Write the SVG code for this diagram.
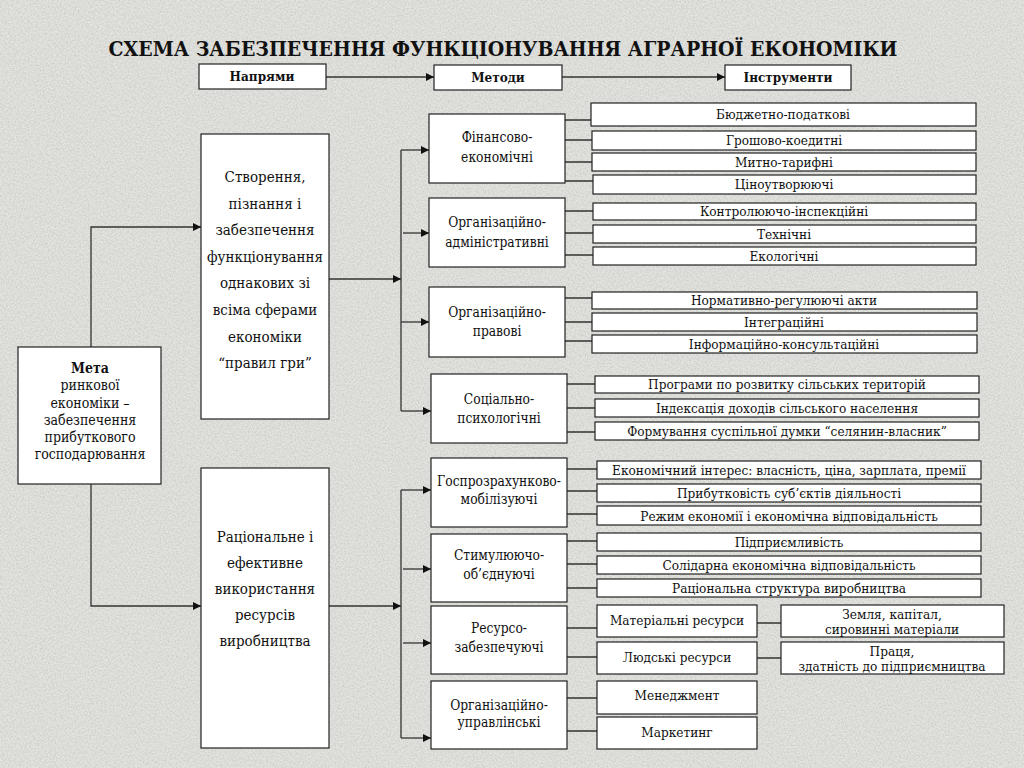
<svg xmlns="http://www.w3.org/2000/svg" width="1024" height="768" viewBox="0 0 1024 768">
<defs>
<style>
.box{fill:#ffffff;stroke:#222;stroke-width:1.2}
.t{font-family:'DejaVu Serif','Liberation Serif',serif;font-size:13.5px;fill:#111;text-anchor:middle}
.m{font-size:14px}
.l{font-size:15px}
.k{font-size:14px}
.h{font-size:13px;font-weight:bold}
.b{font-weight:bold}
.c{fill:none;stroke:#333;stroke-width:1.3}
.a{marker-end:url(#ar)}
</style>
<marker id="ar" viewBox="0 0 10 10" refX="10" refY="5" markerWidth="10" markerHeight="8" markerUnits="userSpaceOnUse" orient="auto">
<path d="M0,0 L10,5 L0,10 z" fill="#111"/>
</marker>
<filter id="grain" x="0" y="0" width="100%" height="100%">
<feTurbulence type="fractalNoise" baseFrequency="0.6" numOctaves="3" seed="7"/>
<feColorMatrix type="matrix" values="0 0 0 0 0.45  0 0 0 0 0.45  0 0 0 0 0.43  0.9 0 0 0 -0.3"/>
</filter>
</defs>

<g id="background">
<rect x="0" y="0" width="1024" height="768" fill="#e3e3df"/>
<rect x="0" y="0" width="1024" height="768" filter="url(#grain)"/>
</g>

<text id="title" class="t b" x="503" y="56" textLength="789" lengthAdjust="spacingAndGlyphs" style="font-size:19.5px">СХЕМА ЗАБЕЗПЕЧЕННЯ ФУНКЦІОНУВАННЯ АГРАРНОЇ ЕКОНОМІКИ</text>

<g id="connectors">
<path class="c a" d="M326,77 H434"/>
<path class="c a" d="M562,77 H725"/>
<path class="c a" d="M91,347 V227 H201"/>
<path class="c a" d="M91,484 V606 H201"/>
<path class="c a" d="M329,279 H401"/>
<path class="c" d="M401,150 V411"/>
<path class="c a" d="M401,150 H429"/>
<path class="c a" d="M403,233 H429"/>
<path class="c a" d="M401,322 H429"/>
<path class="c a" d="M401,411 H431"/>
<path class="c a" d="M329,606 H401"/>
<path class="c" d="M401,490 V738"/>
<path class="c a" d="M401,490 H431"/>
<path class="c a" d="M403,569 H431"/>
<path class="c a" d="M403,643 H431"/>
<path class="c a" d="M401,738 H431"/>
<path class="c" d="M565,120 H591 M565,140 H592 M565,162 H592 M565,181 H593"/>
<path class="c" d="M565,211 H593 M565,233 H593 M565,255 H593"/>
<path class="c" d="M565,298 H592 M565,322 H592 M565,341 H592"/>
<path class="c" d="M567,384 H595 M567,408 H595 M567,432 H595"/>
<path class="c" d="M567,469 H597 M567,491 H597 M567,514 H597"/>
<path class="c" d="M567,541 H597 M567,564 H597 M567,588 H597"/>
<path class="c" d="M567,628 H597 M567,657 H597"/>
<path class="c" d="M757,623 H781 M757,658 H781"/>
<path class="c" d="M567,698 H597 M567,731 H597"/>
</g>

<g id="h-napriamy"><rect class="box" x="199" y="64" width="127" height="25"/><text class="t h" transform="translate(262 0) scale(0.93 1)" x="0" y="81.5">Напрями</text></g>
<g id="h-metody"><rect class="box" x="434" y="65" width="128" height="25"/><text class="t h" transform="translate(498 0) scale(0.93 1)" x="0" y="82.5">Методи</text></g>
<g id="h-instrumenty"><rect class="box" x="725" y="65" width="126" height="25"/><text class="t h" transform="translate(788 0) scale(0.93 1)" x="0" y="82.5">Інструменти</text></g>

<g id="meta"><rect class="box" x="18" y="347" width="143" height="137"/>
<text class="t k" transform="translate(90 0) scale(0.9 1)" x="0" y="373"><tspan class="b">Мета</tspan><tspan x="0" dy="17.3">ринкової</tspan><tspan x="0" dy="17.3">економіки –</tspan><tspan x="0" dy="17.3">забезпечення</tspan><tspan x="0" dy="17.3">прибуткового</tspan><tspan x="0" dy="17.3">господарювання</tspan></text></g>

<g id="stvorennia"><rect class="box" x="201" y="134" width="128" height="285"/>
<text class="t l" transform="translate(265 0) scale(0.9 1)" x="0" y="182">Створення,<tspan x="0" dy="26.6">пізнання і</tspan><tspan x="0" dy="26.6">забезпечення</tspan><tspan x="0" dy="26.6">функціонування</tspan><tspan x="0" dy="26.6">однакових зі</tspan><tspan x="0" dy="26.6">всіма сферами</tspan><tspan x="0" dy="26.6">економіки</tspan><tspan x="0" dy="26.6">“правил гри”</tspan></text></g>

<g id="ratsionalne"><rect class="box" x="201" y="468" width="128" height="280"/>
<text class="t l" transform="translate(265 0) scale(0.9 1)" x="0" y="542">Раціональне і<tspan x="0" dy="26">ефективне</tspan><tspan x="0" dy="26">використання</tspan><tspan x="0" dy="26">ресурсів</tspan><tspan x="0" dy="26">виробництва</tspan></text></g>

<g id="m-finansovo"><rect class="box" x="429" y="114" width="136" height="69"/><text class="t m" transform="translate(497 0) scale(0.88 1)" x="0" y="142">Фінансово-<tspan x="0" dy="20">економічні</tspan></text></g>
<g id="m-org-adm"><rect class="box" x="429" y="198" width="136" height="69"/><text class="t m" transform="translate(497 0) scale(0.88 1)" x="0" y="227">Організаційно-<tspan x="0" dy="20">адміністративні</tspan></text></g>
<g id="m-org-prav"><rect class="box" x="429" y="287" width="136" height="70"/><text class="t m" transform="translate(497 0) scale(0.88 1)" x="0" y="317">Організаційно-<tspan x="0" dy="19">правові</tspan></text></g>
<g id="m-sots"><rect class="box" x="431" y="374" width="136" height="69"/><text class="t m" transform="translate(499 0) scale(0.88 1)" x="0" y="404">Соціально-<tspan x="0" dy="19">психологічні</tspan></text></g>
<g id="m-hosp"><rect class="box" x="431" y="458" width="136" height="69"/><text class="t m" transform="translate(499 0) scale(0.88 1)" x="0" y="486">Госпрозрахунково-<tspan x="0" dy="18">мобілізуючі</tspan></text></g>
<g id="m-styml"><rect class="box" x="431" y="534" width="136" height="68"/><text class="t m" transform="translate(499 0) scale(0.88 1)" x="0" y="560">Стимулюючо-<tspan x="0" dy="19">об’єднуючі</tspan></text></g>
<g id="m-resurso"><rect class="box" x="431" y="606" width="136" height="68"/><text class="t m" transform="translate(499 0) scale(0.88 1)" x="0" y="633">Ресурсо-<tspan x="0" dy="19">забезпечуючі</tspan></text></g>
<g id="m-org-upr"><rect class="box" x="431" y="681" width="136" height="68"/><text class="t m" transform="translate(499 0) scale(0.88 1)" x="0" y="710">Організаційно-<tspan x="0" dy="17">управлінські</tspan></text></g>

<g id="i-biudzhet"><rect class="box" x="591" y="103" width="385" height="23"/><text class="t" transform="translate(783 0) scale(0.9 1)" x="0" y="119">Бюджетно-податкові</text></g>
<g id="i-hrosh"><rect class="box" x="592" y="131" width="384" height="19"/><text class="t" transform="translate(784 0) scale(0.9 1)" x="0" y="145.5">Грошово-коедитні</text></g>
<g id="i-myt"><rect class="box" x="592" y="153" width="384" height="18"/><text class="t" transform="translate(784 0) scale(0.9 1)" x="0" y="167">Митно-тарифні</text></g>
<g id="i-tsin"><rect class="box" x="593" y="175" width="383" height="19"/><text class="t" transform="translate(784 0) scale(0.9 1)" x="0" y="189">Ціноутворюючі</text></g>
<g id="i-kontr"><rect class="box" x="593" y="203" width="383" height="17"/><text class="t" transform="translate(784 0) scale(0.9 1)" x="0" y="216.5">Контролюючо-інспекційні</text></g>
<g id="i-tekhn"><rect class="box" x="593" y="225" width="383" height="18"/><text class="t" transform="translate(784 0) scale(0.9 1)" x="0" y="239">Технічні</text></g>
<g id="i-ekol"><rect class="box" x="593" y="247" width="383" height="18"/><text class="t" transform="translate(784 0) scale(0.9 1)" x="0" y="261">Екологічні</text></g>
<g id="i-norm"><rect class="box" x="592" y="292" width="385" height="17"/><text class="t" transform="translate(784 0) scale(0.9 1)" x="0" y="305.5">Нормативно-регулюючі акти</text></g>
<g id="i-intehr"><rect class="box" x="592" y="313" width="385" height="18"/><text class="t" transform="translate(784 0) scale(0.9 1)" x="0" y="327">Інтеграційні</text></g>
<g id="i-inform"><rect class="box" x="592" y="335" width="385" height="18"/><text class="t" transform="translate(784 0) scale(0.9 1)" x="0" y="349">Інформаційно-консультаційні</text></g>
<g id="i-prohr"><rect class="box" x="595" y="376" width="384" height="17"/><text class="t" transform="translate(787 0) scale(0.9 1)" x="0" y="389.5">Програми по розвитку сільських територій</text></g>
<g id="i-indeks"><rect class="box" x="595" y="399" width="384" height="18"/><text class="t" transform="translate(787 0) scale(0.9 1)" x="0" y="413">Індексація доходів сільського населення</text></g>
<g id="i-form"><rect class="box" x="595" y="422" width="384" height="18"/><text class="t" transform="translate(787 0) scale(0.9 1)" x="0" y="436">Формування суспільної думки “селянин-власник”</text></g>
<g id="i-ekint"><rect class="box" x="597" y="461" width="384" height="18"/><text class="t" transform="translate(789 0) scale(0.9 1)" x="0" y="475">Економічний інтерес: власність, ціна, зарплата, премії</text></g>
<g id="i-prybut"><rect class="box" x="597" y="484" width="384" height="18"/><text class="t" transform="translate(789 0) scale(0.9 1)" x="0" y="498">Прибутковість суб’єктів діяльності</text></g>
<g id="i-rezhym"><rect class="box" x="597" y="506" width="384" height="19"/><text class="t" transform="translate(789 0) scale(0.9 1)" x="0" y="521">Режим економії і економічна відповідальність</text></g>
<g id="i-pidpr"><rect class="box" x="597" y="533" width="384" height="18"/><text class="t" transform="translate(789 0) scale(0.9 1)" x="0" y="547">Підприємливість</text></g>
<g id="i-solid"><rect class="box" x="597" y="556" width="384" height="18"/><text class="t" transform="translate(789 0) scale(0.9 1)" x="0" y="570">Солідарна економічна відповідальність</text></g>
<g id="i-ratsstr"><rect class="box" x="597" y="579" width="384" height="18"/><text class="t" transform="translate(789 0) scale(0.9 1)" x="0" y="593">Раціональна структура виробництва</text></g>
<g id="i-mater"><rect class="box" x="597" y="605" width="160" height="32"/><text class="t" transform="translate(677 0) scale(0.9 1)" x="0" y="625">Матеріальні ресурси</text></g>
<g id="i-liud"><rect class="box" x="597" y="642" width="160" height="32"/><text class="t" transform="translate(677 0) scale(0.9 1)" x="0" y="662">Людські ресурси</text></g>
<g id="i-zemlia"><rect class="box" x="781" y="605" width="223" height="32"/><text class="t" transform="translate(892 0) scale(0.9 1)" x="0" y="619">Земля, капітал,<tspan x="0" dy="15">сировинні матеріали</tspan></text></g>
<g id="i-pratsia"><rect class="box" x="781" y="642" width="223" height="32"/><text class="t" transform="translate(892 0) scale(0.9 1)" x="0" y="656">Праця,<tspan x="0" dy="15">здатність до підприємництва</tspan></text></g>
<g id="i-menedzh"><rect class="box" x="597" y="681" width="160" height="33"/><text class="t" transform="translate(677 0) scale(0.9 1)" x="0" y="700">Менеджмент</text></g>
<g id="i-market"><rect class="box" x="597" y="717" width="160" height="32"/><text class="t" transform="translate(677 0) scale(0.9 1)" x="0" y="737">Маркетинг</text></g>
</svg>
